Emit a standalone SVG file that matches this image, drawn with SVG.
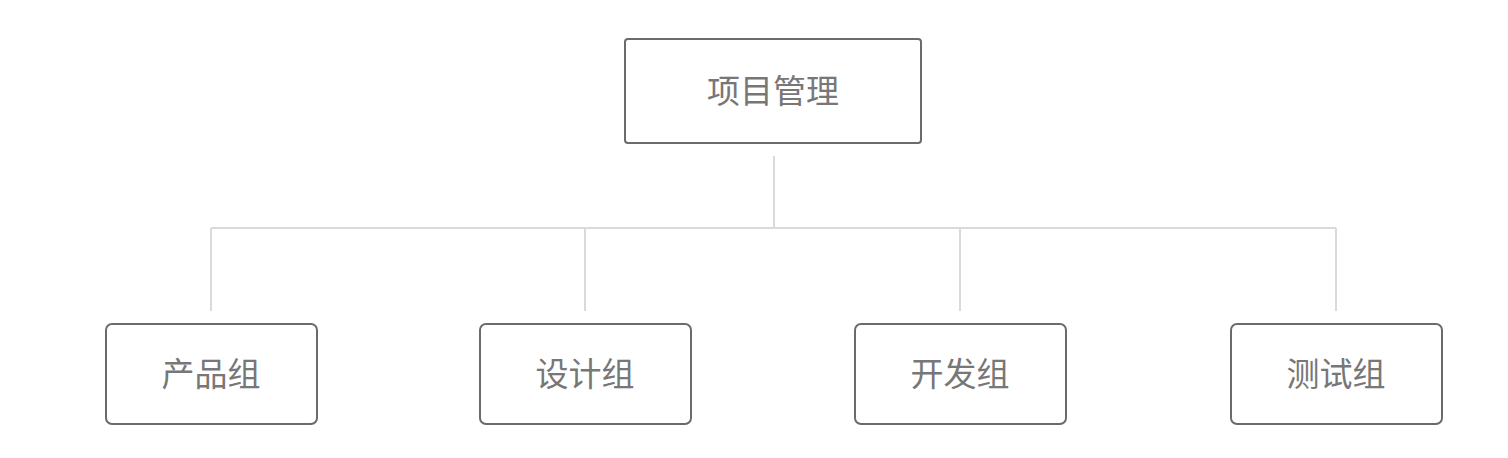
<svg xmlns="http://www.w3.org/2000/svg" width="1508" height="458" viewBox="0 0 1508 458">
<style>
.box{fill:#fff;stroke:#6b6b6b;stroke-width:2}
.lbl{font-family:"Noto Sans CJK SC","Noto Sans",sans-serif;font-size:33px;fill:#777;text-anchor:middle;dominant-baseline:central}
.conn{fill:none;stroke:#dadada;stroke-width:2}
</style>
<rect width="1508" height="458" fill="#fff"/>
<g id="connectors">
<path class="conn" d="M774 156V228M211 228H1336M211 228V311M585 228V311M960 228V311M1336 228V311"/>
</g>
<g id="root"><rect class="box" x="625" y="39" width="296" height="104" rx="3"/><text class="lbl" x="773" y="89">项目管理</text></g>
<g id="product"><rect class="box" x="106" y="324" width="211" height="100" rx="6"/><text class="lbl" x="211" y="372">产品组</text></g>
<g id="design"><rect class="box" x="480" y="324" width="211" height="100" rx="6"/><text class="lbl" x="585" y="372">设计组</text></g>
<g id="dev"><rect class="box" x="855" y="324" width="211" height="100" rx="6"/><text class="lbl" x="960" y="372">开发组</text></g>
<g id="test"><rect class="box" x="1231" y="324" width="211" height="100" rx="6"/><text class="lbl" x="1336" y="372">测试组</text></g>
</svg>
